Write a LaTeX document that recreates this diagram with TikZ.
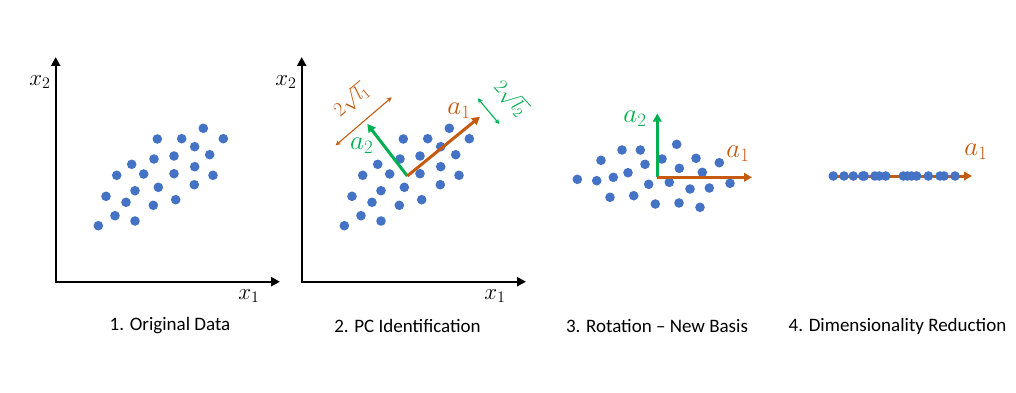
\RequirePackage{fix-cm}
\documentclass[tikz,border=0pt]{standalone}
\usepackage{fontspec}
\setmainfont{Carlito}
\usepackage{tikz}
\usetikzlibrary{arrows.meta}
\definecolor{dotblue}{HTML}{4472C4}
\definecolor{pcorange}{HTML}{C55A11}
\definecolor{pcgreen}{HTML}{00B050}

\begin{document}
\begin{tikzpicture}[
    x=1pt,y=-1pt,
    axis/.style={line width=2.4pt,{Triangle[length=9pt,width=9pt]}-{Triangle[length=9pt,width=9pt]}},
    pc/.style={line width=3pt,-{Triangle[length=8pt,width=8.5pt]}},
    spread/.style={line width=1.1pt,{Stealth[length=5pt,width=5pt]}-{Stealth[length=5pt,width=5pt]}},
    dot/.style={fill=dotblue},
    axlabel/.style={font=\fontsize{23}{23}\selectfont},
    pclabel/.style={font=\fontsize{27}{27}\selectfont},
    sdlabel/.style={font=\fontsize{20}{20}\selectfont,inner sep=1pt},
    caption/.style={font=\fontsize{19}{21}\selectfont}
  ]
    \useasboundingbox (0,0) rectangle (1016,393);

    % panels 1 and 2: axes and data
    \foreach \s/\n in {0/1,246/2} {
      \begin{scope}[xshift=\s pt]
        \coordinate (top\n)   at (55.7,57);
        \coordinate (orig\n)  at (55.7,281.7);
        \coordinate (right\n) at (280,281.7);
        \draw[axis] (top\n) -- (orig\n) -- (right\n);
        \node[axlabel] (xtwo\n) at (40,82)  {$x_2$};
        \node[axlabel] (xone\n) at (249,296) {$x_1$};
        \foreach \px/\py in {203.3/128.3,157.3/139,181.7/138.7,223.3/138.7,194.7/146.7,
            209.7/154.7,154/159,174/156,131.7/164.3,194.7/166.7,116.7/175.3,143.7/174,
            174/173.7,213/175.3,194.3/184.7,106/196.3,135/190.7,158.3/187.3,126/202.3,
            153.3/205.3,175.7/199.7,115/215.7,135/221,98.3/225.7}
          \fill[dot] (\px,\py) circle[radius=4.8pt];
      \end{scope}
    }

    % panel 2: principal components
    \coordinate (ctr2)  at (407.3,176);
    \coordinate (aone)  at (480,116.7);
    \coordinate (atwo)  at (367.3,124);
    \draw[pc,pcgreen]  (ctr2) -- (atwo);
    \draw[pc,pcorange] (ctr2) -- (aone);
    \node[pclabel,text=pcorange] (laone2) at (459,110.5) {$a_1$};
    \node[pclabel,text=pcgreen]  (latwo2) at (361.7,145.5) {$a_2$};

    \coordinate (sdoneA) at (335.7,145.3);
    \coordinate (sdoneB) at (391.7,97.3);
    \draw[spread,pcorange] (sdoneA) -- (sdoneB);
    \node[sdlabel,text=pcorange,rotate=40] (sdone) at (351,100) {$2\sqrt{l_1}$};

    \coordinate (sdtwoA) at (477.7,98.3);
    \coordinate (sdtwoB) at (499.3,124);
    \draw[spread,pcgreen] (sdtwoA) -- (sdtwoB);
    \node[sdlabel,text=pcgreen,rotate=-48] (sdtwo) at (511,98) {$2\sqrt{l_2}$};

    % panel 3: rotated data
    \foreach \px/\py in {577.3/179.3,596.7/180.7,613.3/177.3,628/172.7,645/164.3,
        622/150,640.3/150,601/160.3,610/197.3,633.7/195.7,648.7/184.3,655.3/204,
        662/159,669.3/182.3,676.7/144.3,679.3/168.3,679/203,690/189,696/158.3,
        702.3/172.3,709.3/188,719.3/162.7,730/183.3,700/207.3}
      \fill[dot] (\px,\py) circle[radius=4.8pt];
    \coordinate (ctr3) at (657.3,177.3);
    \coordinate (bone) at (752,177.3);
    \coordinate (btwo) at (657.3,113.5);
    \draw[pc,pcgreen]  (ctr3) -- (btwo);
    \draw[pc,pcorange] (ctr3) -- (bone);
    \node[pclabel,text=pcgreen]  (latwo3) at (635,119) {$a_2$};
    \node[pclabel,text=pcorange] (laone3) at (738,154) {$a_1$};

    % panel 4: projection on a1
    \coordinate (lineA) at (829,176);
    \coordinate (lineB) at (972,176);
    \draw[pc,pcorange] (lineA) -- (lineB);
    \foreach \px in {833.3,844,853.3,862.7,864.3,875,879.3,885.7,903.3,907.3,
        911.7,916.7,928.3,940,944,955}
      \fill[dot] (\px,176) circle[radius=4.8pt];
    \node[pclabel,text=pcorange] (laone4) at (976,152) {$a_1$};

    % captions
    \node[caption] (capone)   at (170,326)   {1. Original Data};
    \node[caption] (captwo)   at (407.5,326) {2. PC Identification};
    \node[caption] (capthree) at (657,326)   {3. Rotation -- New Basis};
    \node[caption] (capfour)  at (897.5,326) {4. Dimensionality Reduction};
\end{tikzpicture}
\end{document}
